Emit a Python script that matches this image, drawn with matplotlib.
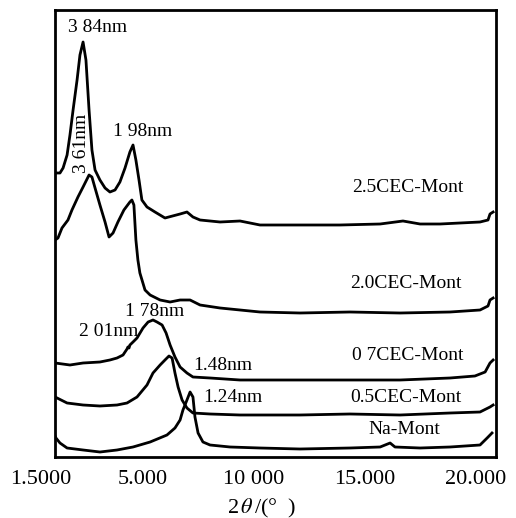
import matplotlib
matplotlib.use("Agg")
import matplotlib.pyplot as plt
import matplotlib.transforms as mtransforms

plt.rcParams['font.family'] = ['Liberation Serif', 'DejaVu Serif']
plt.rcParams['mathtext.fontset'] = 'stix'

# 2theta (deg) and intensity (arb. units, offset stacked)
tt_25 = [1.04, 1.26, 1.40, 1.58, 1.71, 1.85, 2.03, 2.16, 2.30, 2.43, 2.57, 2.70, 2.84,
         3.06, 3.29, 3.51, 3.74, 3.96, 4.19, 4.41, 4.55, 4.68, 4.82, 4.95, 5.18, 5.54,
         5.99, 6.67, 6.98, 7.25, 7.57, 8.47, 9.37, 10.27, 12.07, 13.87, 15.68, 16.71,
         17.48, 18.38, 20.18, 20.54, 20.63, 20.77]
i_25 = [284, 284, 289, 302, 322, 347, 377, 402, 415, 397, 347, 307, 287,
        277, 269, 265, 267, 275, 289, 305, 312, 297, 277, 257, 250, 245,
        239, 243, 245, 240, 237, 235, 236, 232, 232, 232, 233, 236,
        233, 233, 235, 237, 243, 245]

tt_20 = [1.04, 1.17, 1.35, 1.62, 1.80, 2.07, 2.30, 2.57, 2.70, 2.84, 3.06, 3.29, 3.47,
         3.65, 3.87, 4.14, 4.41, 4.50, 4.59, 4.68, 4.77, 4.86, 5.09, 5.32, 5.77, 6.22,
         6.67, 7.12, 7.57, 8.47, 9.37, 10.27, 12.07, 14.32, 16.58, 18.83, 20.18, 20.54,
         20.63, 20.77]
i_20 = [217, 219, 229, 237, 247, 260, 270, 282, 280, 269, 252, 235, 220,
        224, 235, 247, 255, 257, 252, 217, 197, 184, 167, 162, 157, 155,
        157, 157, 152, 149, 147, 145, 144, 145, 144, 145, 147, 151,
        157, 159]

tt_07 = [1.04, 1.71, 2.30, 3.06, 3.51, 3.83, 4.10, 4.28, 4.32, 4.37, 4.41, 4.55, 4.73,
         5.00, 5.23, 5.45, 5.63, 5.86, 6.04, 6.22, 6.44, 6.67, 6.98, 7.25, 8.02, 9.37,
         10.27, 12.07, 14.32, 16.58, 18.83, 19.95, 20.41, 20.63, 20.77]
i_07 = [94, 92, 94, 95, 97, 99, 102, 108, 110, 109, 112, 115, 119,
        129, 135, 137, 135, 132, 124, 112, 100, 90, 84, 80, 79, 77,
        77, 77, 77, 77, 79, 81, 85, 94, 97]

tt_05 = [1.04, 1.13, 1.58, 2.30, 3.06, 3.83, 4.28, 4.73, 5.18, 5.45, 5.77, 5.99, 6.17,
         6.31, 6.44, 6.58, 6.76, 6.98, 7.25, 8.02, 9.37, 10.27, 12.07, 14.32, 16.58,
         18.83, 20.18, 20.63, 20.77]
i_05 = [60, 59, 54, 52, 51, 52, 54, 60, 72, 84, 92, 97, 101,
        99, 84, 70, 57, 49, 44, 43, 42, 42, 42, 43, 42,
        44, 45, 50, 52]

tt_na = [1.04, 1.08, 1.26, 1.58, 2.30, 3.06, 3.83, 4.55, 5.32, 6.08, 6.44, 6.67, 6.80,
         6.98, 7.12, 7.25, 7.34, 7.48, 7.70, 8.02, 8.92, 10.27, 12.07, 14.32, 15.68,
         16.13, 16.35, 17.48, 18.83, 20.18, 20.50, 20.72]
i_na = [21, 19, 14, 9, 7, 5, 7, 10, 15, 22, 29, 37, 47,
        57, 65, 60, 40, 24, 15, 12, 10, 9, 8, 9, 10,
        14, 10, 9, 10, 12, 19, 24]

series = [(tt_25, i_25), (tt_20, i_20), (tt_07, i_07), (tt_05, i_05), (tt_na, i_na)]

curve_names = ['2.5CEC-Mont', '2.0CEC-Mont', '0 7CEC-Mont', '0.5CEC-Mont', 'Na-Mont']
curve_name_pos = [(14.41, 269), (14.32, 174), (14.41, 102), (14.32, 60), (15.14, 27)]

peak_labels = ['3 84nm', '1 98nm', '1 78nm', '2 01nm', '1.48nm', '1.24nm']
peak_label_pos = [(1.62, 429), (3.65, 325), (4.19, 145), (2.12, 126), (7.25, 92), (7.70, 59)]

tick_vals = [5, 10, 15, 20]
tick_text = ['5.000', '10 000', '15.000', '20.000']

fig = plt.figure(figsize=(5.16, 5.18), dpi=100)
ax = fig.add_axes([55/516, 1-457/518, 441/516, 447/518])

for tt, inten in series:
    ax.plot(tt, inten, color='black', lw=2.0, solid_joinstyle='round')

for name, (x, y) in zip(curve_names, curve_name_pos):
    ax.text(x, y, name, fontsize=14, ha='left', va='center')

for name, (x, y) in zip(peak_labels, peak_label_pos):
    ax.text(x, y, name, fontsize=14, ha='left', va='center')

ax.text(2.25, 314, '3 61nm', fontsize=14, rotation=90, ha='center', va='center')

ax.set_xlim(1.036, 20.9)
ax.set_ylim(0, 447)
ax.set_yticks([])
ax.set_xticks(tick_vals)
ax.set_xticklabels(tick_text, fontsize=16)
ax.tick_params(axis='x', length=0, pad=9)
trans = mtransforms.blended_transform_factory(ax.transData, ax.transAxes)
ax.text(0.41, -0.03, '1.5000', fontsize=16, ha='center', va='top', transform=trans,
        clip_on=False)

for sp in ax.spines.values():
    sp.set_linewidth(2.0)

fig.text(262/516, 1-508/518, r'2$\,\theta\,$/(°  )', fontsize=16, ha='center', va='center')

fig.savefig('out.png', dpi=100)
